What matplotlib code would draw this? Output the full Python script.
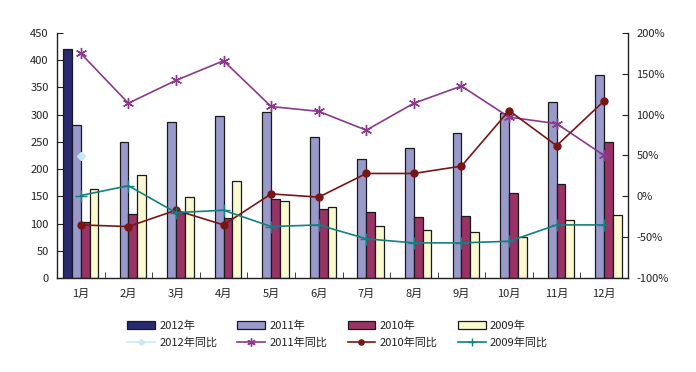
import matplotlib
matplotlib.use("Agg")
import matplotlib.pyplot as plt
import numpy as np

plt.rcParams['font.family'] = ['Noto Sans CJK SC', 'DejaVu Sans']
plt.rcParams['font.size'] = 8

months = ['1月', '2月', '3月', '4月', '5月', '6月', '7月', '8月', '9月', '10月', '11月', '12月']
v2012 = [420, None, None, None, None, None, None, None, None, None, None, None]
v2011 = [281, 250, 287, 298, 305, 259, 219, 239, 267, 303, 324, 372]
v2010 = [103, 118, 120, 111, 145, 127, 121, 112, 114, 156, 173, 250]
v2009 = [164, 189, 149, 178, 142, 131, 96, 88, 85, 76, 107, 116]

yoy2012 = [49, None, None, None, None, None, None, None, None, None, None, None]
yoy2011 = [175, 114, 142, 166, 110, 104, 81, 114, 135, 97, 89, 50]
yoy2010 = [-35, -37, -17, -35, 3, -1, 28, 28, 37, 105, 62, 117]
yoy2009 = [1, 13, -20, -17, -37, -35, -52, -57, -57, -55, -35, -35]

left_ticks = list(range(0, 451, 50))
right_ticks = [-100, -50, 0, 50, 100, 150, 200]

def clean(a):
    return np.array([np.nan if v is None else v for v in a], dtype=float)

fig = plt.figure(figsize=(6.96, 3.72), dpi=100)
ax = fig.add_axes([57/696, 1-278/372, (628-57)/696, (278-33)/372])
ax2 = ax.twinx()

x = np.arange(len(months))
w = 0.185
bar_specs = [(v2012, '#2a2a70', '2012年'), (v2011, '#9999cc', '2011年'),
             (v2010, '#993366', '2010年'), (v2009, '#fbf9d0', '2009年')]
bar_handles = []
for i, (vals, col, lab) in enumerate(bar_specs):
    b = ax.bar(x + (i - 1.5) * w, clean(vals), width=w, color=col,
               edgecolor='#1a1a1a', linewidth=0.9, label=lab, zorder=2)
    bar_handles.append(b)

line_specs = [(yoy2012, '#c6eaf2', 'D', 4, '2012年同比'),
              (yoy2011, '#8b3a8b', (6, 2, 0), 8, '2011年同比'),
              (yoy2010, '#7a1515', 'o', 5, '2010年同比'),
              (yoy2009, '#138080', '+', 8, '2009年同比')]
line_handles = []
for vals, col, mk, ms, lab in line_specs:
    l, = ax2.plot(x, clean(vals), color=col, marker=mk, markersize=ms,
                  linewidth=1.2, label=lab, markeredgecolor=col, markerfacecolor=col,
                  markeredgewidth=1.0)
    line_handles.append(l)

ax.set_xlim(-0.5, 11.5)
ax.set_ylim(0, 450)
ax.set_yticks(left_ticks)
ax2.set_ylim(-100, 200)
ax2.set_yticks(right_ticks)
ax2.set_yticklabels([f'{t}%' for t in right_ticks])

ax.set_xticks(x)
ax.set_xticklabels(months)
ax.set_xticks(np.arange(0.5, 11.5, 1), minor=True)
ax.tick_params(axis='x', which='major', length=0, pad=8, colors='#222222')
ax.tick_params(axis='x', which='minor', direction='in', length=4, color='#222222')
ax.tick_params(axis='y', direction='in', length=4, colors='#222222', pad=6)
ax2.tick_params(axis='y', direction='in', length=4, colors='#222222', pad=6)

for a in (ax, ax2):
    a.spines['top'].set_visible(False)
    for s in ('left', 'right', 'bottom'):
        a.spines[s].set_color('#222222')
        a.spines[s].set_linewidth(1.0)
ax.spines['right'].set_visible(False)
ax2.spines['left'].set_visible(False)
ax2.spines['bottom'].set_visible(False)

handles = []
for b, l in zip(bar_handles, line_handles):
    handles += [b, l]
labels = [h.get_label() for h in handles]
fig.legend(handles, labels, loc='upper center', bbox_to_anchor=(0.485, 0.165),
           ncol=4, frameon=False, handlelength=2.5, handleheight=0.7,
           columnspacing=1.8, handletextpad=0.4, labelspacing=0.55,
           fontsize=8, labelcolor='#222222', markerscale=0.75)

fig.savefig('out.png', dpi=100)
